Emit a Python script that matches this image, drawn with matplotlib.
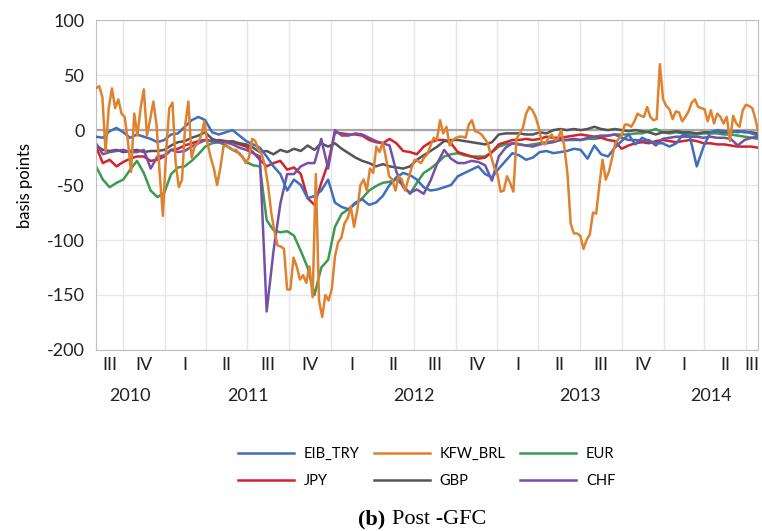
import matplotlib.pyplot as plt
import matplotlib.transforms as mtransforms
import pandas as pd

# semi-monthly sampling for the cross-currency bases, weekly for KFW_BRL
dates = pd.date_range("2010-08-03", periods=98, freq="15D")
dates_w = pd.date_range("2010-08-03", periods=209, freq="7D")

eib_try = [-6, -7, -1, 2, -2, -7, -4, -6, -8, -11,
           -9, -4, -3, 3, 9, 12, 9, -2, -4, -2,
           0, -5, -10, -13, -16, -24, -33, -40, -55, -45,
           -50, -62, -60, -55, -45, -66, -70, -72, -66, -63,
           -68, -66, -60, -50, -43, -39, -41, -45, -52, -55,
           -54, -52, -50, -42, -39, -36, -33, -40, -43, -35,
           -28, -21, -23, -27, -25, -20, -19, -21, -20, -19,
           -17, -18, -26, -14, -22, -24, -16, -10, -4, -13,
           -7, -10, -12, -12, -15, -12, -4, -6, -33, -15,
           -2, 0, -1, -1, -2, -1, -3, -5]

jpy = [-15, -30, -27, -33, -29, -26, -24, -24, -28, -27,
       -24, -18, -17, -14, -12, -10, -9, -10, -9, -10,
       -11, -13, -15, -20, -27, -33, -30, -28, -36, -34,
       -40, -62, -68, -48, -30, -2, -3, -4, -4, -5,
       -9, -11, -12, -8, -12, -19, -20, -22, -15, -11,
       -9, -9, -12, -20, -22, -24, -26, -25, -20, -13,
       -11, -9, -9, -8, -9, -8, -6, -7, -7, -6,
       -5, -4, -5, -6, -7, -9, -10, -17, -14, -12,
       -11, -12, -10, -9, -10, -11, -10, -9, -10, -12,
       -12, -13, -13, -14, -15, -15, -15, -16]

eur = [-33, -45, -52, -48, -45, -36, -28, -39, -55, -61,
       -57, -40, -34, -33, -28, -22, -15, -12, -11, -14,
       -18, -21, -29, -32, -33, -82, -91, -93, -92, -96,
       -110, -125, -150, -125, -118, -88, -76, -72, -67, -62,
       -55, -51, -48, -47, -45, -50, -58, -48, -39, -35,
       -30, -24, -22, -21, -23, -24, -24, -24, -20, -15,
       -13, -12, -13, -14, -13, -12, -11, -10, -9, -9,
       -9, -9, -8, -8, -7, -5, -4, -4, -4, -3,
       -3, -1, 1, -2, -3, -2, -3, -4, -4, -3,
       -3, -3, -4, -4, -5, -6, -7, -8]

gbp = [-14, -18, -19, -18, -20, -19, -18, -20, -19, -19,
       -18, -14, -11, -10, -7, -5, -2, -8, -10, -11,
       -10, -12, -13, -16, -20, -19, -22, -18, -20, -17,
       -19, -14, -18, -12, -15, -12, -17, -21, -25, -28,
       -30, -33, -31, -33, -34, -35, -33, -27, -23, -19,
       -15, -10, -9, -9, -10, -11, -12, -13, -11, -4,
       -3, -3, -3, -4, -4, -2, -3, 0, 1, 0,
       1, 0, 1, 3, 1, 0, 1, 0, -1, 0,
       -1, -2, -4, -2, -2, -1, -2, -2, -3, -2,
       -2, -1, -2, -2, -1, -2, -2, -3]

chf = [-12, -22, -20, -19, -18, -20, -20, -18, -35, -24,
       -23, -18, -20, -19, -15, -12, -9, -10, -11, -11,
       -13, -16, -18, -21, -24, -165, -110, -67, -40, -40,
       -33, -30, -30, -8, -35, 0, -5, -5, -3, -4,
       -7, -10, -12, -14, -38, -52, -57, -54, -58, -46,
       -30, -18, -26, -30, -30, -28, -29, -32, -46, -24,
       -16, -12, -13, -14, -15, -13, -12, -11, -9, -9,
       -8, -9, -7, -6, -5, -5, -4, -7, -9, -9,
       -10, -9, -14, -8, -7, -6, -6, -6, -6, -7,
       -6, -7, -7, -8, -14, -9, -7, -6]

kfw_brl = [38, 40, 30, -20, 20, 38, 20, 28, 15, 12,
           -10, -38, 15, -5, 20, 37, -5, 10, 26, 5,
           -40, -78, -20, 20, 25, -30, -52, -45, 5, 26,
           -25, -15, -12, -5, 8, -12, -25, -35, -50, -35,
           -15, -14, -16, -18, -18, -22, -24, -30, -25, -8,
           -10, -18, -22, -32, -50, -75, -92, -105, -106, -108,
           -145, -145, -116, -124, -136, -132, -139, -124, -152, -40,
           -155, -170, -150, -155, -145, -115, -102, -98, -85, -80,
           -70, -88, -73, -50, -45, -55, -35, -39, -15, -20,
           -11, -25, -42, -45, -55, -42, -45, -55, -45, -35,
           -27, -28, -30, -25, -22, -14, -7, -9, 9, -3,
           3, -14, -9, -7, -6, -6, -7, 5, 9, -1,
           -2, -4, -8, -12, -24, -34, -40, -56, -55, -42,
           -48, -56, -8, -3, 2, 15, 21, 18, 12, 2,
           -12, -13, -7, -4, -9, -8, 0, -15, -40, -85,
           -94, -94, -96, -108, -100, -95, -75, -76, -50, -27,
           -45, -38, -25, -12, -8, -5, 5, 5, 3, 8,
           15, 13, 12, 21, 12, 9, 10, 60, 28, 22,
           19, 10, 17, 16, 8, 12, 17, 25, 28, 21,
           20, 19, 8, 18, 6, 15, 12, 6, 12, -10,
           13, 6, 3, 18, 23, 22, 20, 10, -3]

quarter_names = ["I", "II", "III", "IV"]
x_start = pd.Timestamp("2010-08-03")
x_end = pd.Timestamp("2014-07-28")

plt.rcParams["font.family"] = ["Lato", "DejaVu Sans"]
plt.rcParams["axes.unicode_minus"] = False

fig = plt.figure(figsize=(7.62, 5.31), dpi=100)
ax = fig.add_axes([0.126, 0.341, 0.869, 0.621])

ax.axhline(0, color="#a5a5a5", lw=1.6, zorder=1)

l_eib, = ax.plot(dates, eib_try, color="#3F6FBA", lw=1.8, label="EIB_TRY", zorder=3)
l_kfw, = ax.plot(dates_w, kfw_brl, color="#E0812F", lw=1.8, label="KFW_BRL", zorder=4)
l_eur, = ax.plot(dates, eur, color="#3D9A4F", lw=1.8, label="EUR", zorder=2)
l_jpy, = ax.plot(dates, jpy, color="#D3242C", lw=1.8, label="JPY", zorder=2)
l_gbp, = ax.plot(dates, gbp, color="#555555", lw=1.8, label="GBP", zorder=2)
l_chf, = ax.plot(dates, chf, color="#7650A8", lw=1.8, label="CHF", zorder=2)

ax.set_xlim(x_start, x_end)
ax.set_ylim(-200, 100)
ax.set_yticks([-200, -150, -100, -50, 0, 50, 100])
ax.tick_params(axis="y", length=0, labelsize=13, pad=8, labelcolor="#222222")
ax.set_ylabel("basis points", fontsize=12, labelpad=10)

# quarter boundaries as gridlines, roman numerals centred in each quarter
bounds = pd.date_range("2010-07-01", "2014-10-01", freq="QS")
inner = [b for b in bounds if x_start < b < x_end]
ax.set_xticks(inner)
ax.set_xticklabels([])
ax.tick_params(axis="x", length=0)
ax.grid(True, color="#e6e6e6", lw=1)
ax.set_axisbelow(True)

trans = mtransforms.blended_transform_factory(ax.transData, ax.transAxes)
for a, b in zip(bounds[:-1], bounds[1:]):
    lo = max(a, x_start)
    hi = min(b, x_end)
    if lo >= hi:
        continue
    mid = lo + (hi - lo) / 2
    ax.text(mid, -0.045, quarter_names[a.quarter - 1], transform=trans,
            ha="center", va="center", fontsize=13, color="#222222")

for yr in range(2010, 2015):
    lo = max(pd.Timestamp(f"{yr}-01-01"), x_start)
    hi = min(pd.Timestamp(f"{yr}-12-31"), x_end)
    mid = lo + (hi - lo) / 2
    ax.text(mid, -0.14, str(yr), transform=trans,
            ha="center", va="center", fontsize=13, color="#222222")

for s in ax.spines.values():
    s.set_color("#bfbfbf")

handles = [l_eib, l_jpy, l_kfw, l_gbp, l_eur, l_chf]
fig.legend(handles=handles, labels=[h.get_label() for h in handles],
           ncol=3, loc="center", bbox_to_anchor=(0.56, 0.12),
           frameon=False, fontsize=10.5, handlelength=3.8,
           handletextpad=0.7, columnspacing=1.0, labelspacing=0.9)

fig.text(0.506, 0.013, "(b)", fontsize=16, fontweight="bold",
         family="Liberation Serif", ha="right", va="baseline")
fig.text(0.514, 0.013, "Post -GFC", fontsize=16,
         family="Liberation Serif", ha="left", va="baseline")

fig.savefig("out.png", dpi=100)
